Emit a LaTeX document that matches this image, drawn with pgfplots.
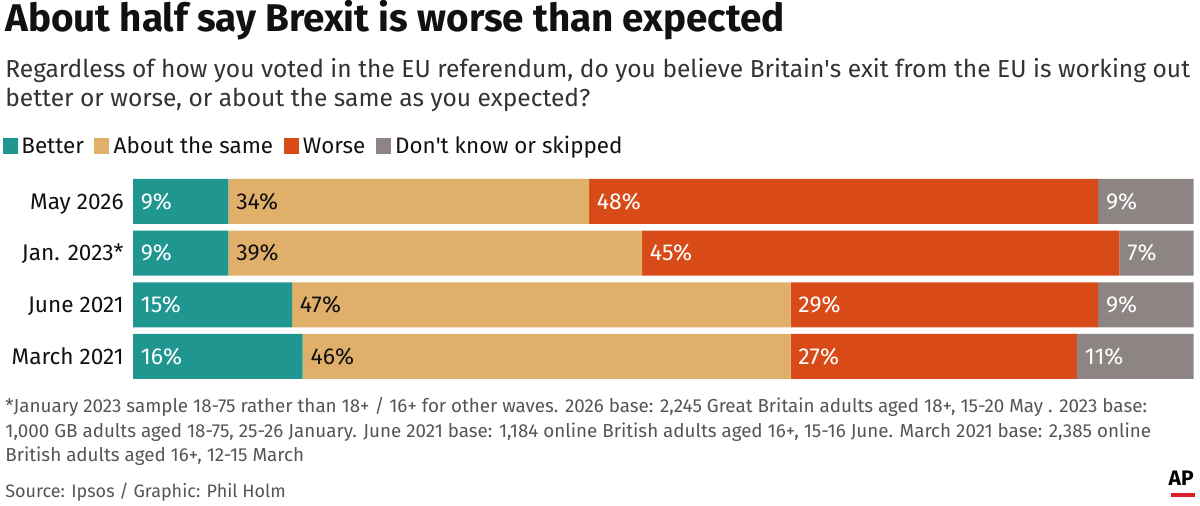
\documentclass[border=0pt]{standalone}
\usepackage{pgfplots}
\pgfplotsset{compat=1.18}
\usepackage{pgfplotstable}
\usepackage{fontspec}
\setmainfont{Fira Sans}
\definecolor{cBetter}{RGB}{32,150,145}
\definecolor{cSame}{RGB}{224,176,106}
\definecolor{cWorse}{RGB}{216,75,24}
\definecolor{cDK}{RGB}{140,133,131}
\definecolor{cTitle}{RGB}{17,17,17}
\definecolor{cSub}{RGB}{51,51,51}
\definecolor{cNote}{RGB}{85,85,85}
\definecolor{cAPred}{RGB}{220,30,40}
\pgfplotstableread{
row better same worse dk
0 9 34 48 9
1 9 39 45 7
2 15 47 29 9
3 16 46 27 11
}\datatable
\begin{document}
\begin{tikzpicture}
\useasboundingbox (0,0) rectangle (600pt,-252.5pt);
% title and subtitle
\node[anchor=base west, inner sep=0, text=cTitle] at (2.5pt,-15.8pt) {\bfseries\fontsize{19.3}{22}\selectfont About half say Brexit is worse than expected};
\node[anchor=base west, inner sep=0, text=cSub] at (2.5pt,-38.5pt) {\fontsize{12.28}{14}\selectfont Regardless of how you voted in the EU referendum, do you believe Britain\textquotesingle s exit from the EU is working out};
\node[anchor=base west, inner sep=0, text=cSub] at (2.5pt,-53pt) {\fontsize{12.28}{14}\selectfont better or worse, or about the same as you expected?};
% legend
\fill[cBetter] (1.5pt,-69pt) rectangle ++(7.5pt,-8pt);
\node[anchor=base west, inner sep=0, text=cTitle] (l1) at (10.5pt,-76.5pt) {\fontsize{11.2}{13}\selectfont Better};
\fill[cSame] ([xshift=5pt]l1.base east) ++(0,7.5pt) rectangle ++(7.5pt,-8pt);
\node[anchor=base west, inner sep=0, text=cTitle] (l2) at ([xshift=14.5pt]l1.base east) {\fontsize{11.2}{13}\selectfont About the same};
\fill[cWorse] ([xshift=5pt]l2.base east) ++(0,7.5pt) rectangle ++(7.5pt,-8pt);
\node[anchor=base west, inner sep=0, text=cTitle] (l3) at ([xshift=14.5pt]l2.base east) {\fontsize{11.2}{13}\selectfont Worse};
\fill[cDK] ([xshift=5pt]l3.base east) ++(0,7.5pt) rectangle ++(7.5pt,-8pt);
\node[anchor=base west, inner sep=0, text=cTitle] (l4) at ([xshift=14.5pt]l3.base east) {\fontsize{11.2}{13}\selectfont Don\textquotesingle t know or skipped};
% bars
\begin{axis}[
  at={(66.5pt,-87.75pt)}, anchor=north west,
  scale only axis, width=530.3pt, height=103.4pt,
  xbar stacked, bar width=22.5pt,
  xmin=0, xmax=100, ymin=-0.5, ymax=3.5, y dir=reverse,
  axis line style={draw=none}, xtick=\empty,
  ytick={0,1,2,3},
  yticklabels={May 2026, Jan. 2023*, June 2021, March 2021},
  major tick length=0pt,
  yticklabel style={anchor=base east, inner sep=0pt, yshift=-3.9pt, text=cTitle, font=\fontsize{11.3}{13}\selectfont},
  yticklabel shift=4.5pt,
  clip=false,
]
\addplot[fill=cBetter, draw=none] table[x=better, y=row] {\datatable};
\addplot[fill=cSame, draw=none] table[x=same, y=row] {\datatable};
\addplot[fill=cWorse, draw=none] table[x=worse, y=row] {\datatable};
\addplot[fill=cDK, draw=none] table[x=dk, y=row] {\datatable};
\end{axis}
% labels overlay
\begin{axis}[
  at={(66.5pt,-87.75pt)}, anchor=north west,
  scale only axis, width=530.3pt, height=103.4pt,
  xmin=0, xmax=100, ymin=-0.5, ymax=3.5, y dir=reverse,
  axis lines=none, xtick=\empty, ytick=\empty,
  clip=false,
  point meta=explicit symbolic,
  nodes near coords={\pgfplotspointmeta\%},
  every node near coord/.append style={anchor=base west, inner sep=0pt, xshift=3.75pt, yshift=-3.95pt, font=\fontsize{11.5}{13}\selectfont},
]
\addplot[only marks, mark=*, mark size=0pt, draw=none, fill=none, every node near coord/.append style={text=white}] table[x expr=0, y=row, meta=better] {\datatable};
\addplot[only marks, mark=*, mark size=0pt, draw=none, fill=none, every node near coord/.append style={text=cTitle}] table[x expr=\thisrow{better}, y=row, meta=same] {\datatable};
\addplot[only marks, mark=*, mark size=0pt, draw=none, fill=none, every node near coord/.append style={text=white}] table[x expr=\thisrow{better}+\thisrow{same}, y=row, meta=worse] {\datatable};
\addplot[only marks, mark=*, mark size=0pt, draw=none, fill=none, every node near coord/.append style={text=white}] table[x expr=\thisrow{better}+\thisrow{same}+\thisrow{worse}, y=row, meta=dk] {\datatable};
\end{axis}
% notes
\node[anchor=base west, inner sep=0, text=cNote] at (2.5pt,-206pt) {\fontsize{9.4}{11}\selectfont *January 2023 sample 18-75 rather than 18+ / 16+ for other waves. 2026 base: 2,245 Great Britain adults aged 18+, 15-20 May . 2023 base:};
\node[anchor=base west, inner sep=0, text=cNote] at (2.5pt,-218.5pt) {\fontsize{9.4}{11}\selectfont 1,000 GB adults aged 18-75, 25-26 January. June 2021 base: 1,184 online British adults aged 16+, 15-16 June. March 2021 base: 2,385 online};
\node[anchor=base west, inner sep=0, text=cNote] at (2.5pt,-230.5pt) {\fontsize{9.4}{11}\selectfont British adults aged 16+, 12-15 March};
\node[anchor=base west, inner sep=0, text=cNote] at (2.5pt,-248.5pt) {\fontsize{9.0}{11}\selectfont Source: Ipsos / Graphic: Phil Holm};
% AP logo
\node[anchor=base east, inner sep=0, text=black] at (597pt,-242.5pt) {\bfseries\fontsize{10.5}{12}\selectfont AP};
\fill[cAPred] (585.5pt,-246.5pt) rectangle (597.5pt,-248.5pt);
\end{tikzpicture}
\end{document}
